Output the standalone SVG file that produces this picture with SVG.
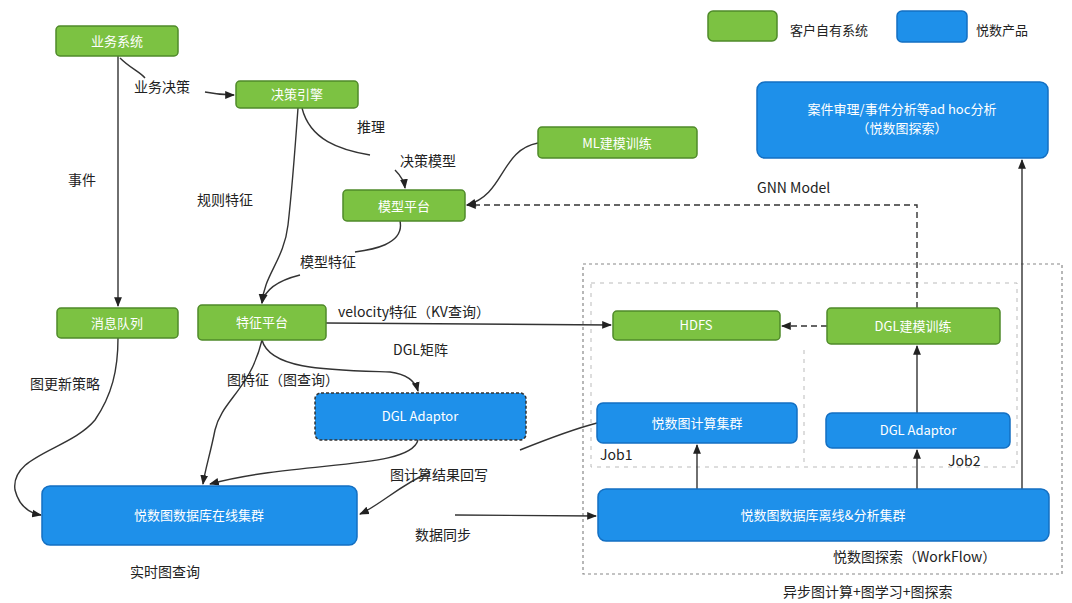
<svg xmlns="http://www.w3.org/2000/svg" width="1072" height="603" viewBox="0 0 1072 603">
<style>
.g{fill:#7cc242;stroke:#4f8a2a;stroke-width:1.5}
.b{fill:#1e90ea;stroke:#136fc2;stroke-width:1.5}
.nt{font-family:"Noto Sans CJK SC","Liberation Sans",sans-serif;font-size:13px;fill:#ffffff;text-anchor:middle}
.lb{font-family:"Noto Sans CJK SC","Liberation Sans",sans-serif;font-size:14px;fill:#222}
.c{fill:none;stroke:#333;stroke-width:1.4}
.d{stroke-dasharray:6 4}
.box{fill:none;stroke:#888;stroke-width:1.2;stroke-dasharray:3 3}
.box2{fill:none;stroke:#bbb;stroke-width:1;stroke-dasharray:4 5}
</style>
<defs>
<marker id="a" viewBox="0 0 10 10" refX="9" refY="5" markerWidth="7" markerHeight="7" orient="auto"><path d="M0,1 L10,5 L0,9 z" fill="#222"/></marker>
</defs>
<rect width="1072" height="603" fill="#ffffff"/>
<g id="frames">
<rect class="box" x="583" y="264" width="479" height="310"/>
<rect class="box2" x="591" y="283" width="426" height="184"/>
<line class="box2" x1="804" y1="350" x2="804" y2="467"/>
</g>
<g id="legend">
<rect class="g" x="708" y="11" width="69" height="30" rx="5"/>
<text class="lb" x="790" y="35" style="font-size:13px">客户自有系统</text>
<rect class="b" x="897" y="11" width="70" height="31" rx="5"/>
<text class="lb" x="976" y="35" style="font-size:13px">悦数产品</text>
</g>
<g id="connectors">
<path class="c" d="M118,56 L118,306" marker-end="url(#a)"/>
<path class="c" d="M120,58 C130,68 140,72 145,78 M205,92 C215,94 222,95 234,95" marker-end="url(#a)"/>
<path class="c" d="M118,338 C118,370 112,395 95,420 C70,450 10,455 15,490 C20,510 35,514 41,515" marker-end="url(#a)"/>
<path class="c" d="M302,108 C310,140 340,150 370,155 M395,170 C400,175 404,180 405,188" marker-end="url(#a)"/>
<path class="c" d="M298,108 C295,150 292,190 288,225 C284,260 264,275 262,303" marker-end="url(#a)"/>
<path class="c" d="M400,221 C405,245 370,250 355,252 M300,275 C280,280 265,288 262,303" marker-end="url(#a)"/>
<path class="c" d="M538,143 C500,150 505,195 467,205" marker-end="url(#a)"/>
<path class="c d" d="M917,308 L917,205 L467,205" marker-end="url(#a)"/>
<path class="c" d="M326,323 L611,325" marker-end="url(#a)"/>
<path class="c d" d="M827,326 L782,326" marker-end="url(#a)"/>
<path class="c" d="M262,340 C270,370 330,370 390,372 C405,374 415,380 418,391" marker-end="url(#a)"/>
<path class="c" d="M262,340 C250,390 222,400 215,430 C210,455 205,470 203,484" marker-end="url(#a)"/>
<path class="c" d="M418,440 C410,470 300,460 210,484" marker-end="url(#a)"/>
<path class="c" d="M597,423 C570,430 545,440 520,450 M430,472 C400,485 380,505 360,514" marker-end="url(#a)"/>
<path class="c" d="M455,515 L596,516" marker-end="url(#a)"/>
<path class="c" d="M697,489 L697,445" marker-end="url(#a)"/>
<path class="c" d="M917,489 L917,450" marker-end="url(#a)"/>
<path class="c" d="M917,413 L917,346" marker-end="url(#a)"/>
<path class="c" d="M1022,489 L1022,160" marker-end="url(#a)"/>
</g>
<g id="labels">
<text class="lb" x="134" y="92">业务决策</text>
<text class="lb" x="68" y="185">事件</text>
<text class="lb" x="357" y="132">推理</text>
<text class="lb" x="400" y="166">决策模型</text>
<text class="lb" x="197" y="205">规则特征</text>
<text class="lb" x="300" y="267">模型特征</text>
<text class="lb" x="757" y="193">GNN Model</text>
<text class="lb" x="338" y="317">velocity特征（KV查询）</text>
<text class="lb" x="393" y="355">DGL矩阵</text>
<text class="lb" x="227" y="385">图特征（图查询）</text>
<text class="lb" x="30" y="389">图更新策略</text>
<text class="lb" x="390" y="480">图计算结果回写</text>
<text class="lb" x="415" y="540">数据同步</text>
<text class="lb" x="130" y="577">实时图查询</text>
<text class="lb" x="600" y="460">Job1</text>
<text class="lb" x="948" y="466">Job2</text>
<text class="lb" x="833" y="562">悦数图探索（WorkFlow）</text>
<text class="lb" x="783" y="597">异步图计算+图学习+图探索</text>
</g>
<g id="n-yewu"><rect class="g" x="56" y="26" width="122" height="30" rx="4"/><text class="nt" x="117" y="46">业务系统</text></g>
<g id="n-juece"><rect class="g" x="236" y="81" width="122" height="27" rx="4"/><text class="nt" x="297" y="99">决策引擎</text></g>
<g id="n-ml"><rect class="g" x="538" y="127" width="159" height="31" rx="4"/><text class="nt" x="617" y="148">ML建模训练</text></g>
<g id="n-moxing"><rect class="g" x="343" y="190" width="122" height="31" rx="4"/><text class="nt" x="404" y="211">模型平台</text></g>
<g id="n-xiaoxi"><rect class="g" x="57" y="308" width="121" height="30" rx="4"/><text class="nt" x="117" y="328">消息队列</text></g>
<g id="n-tezheng"><rect class="g" x="198" y="305" width="128" height="35" rx="4"/><text class="nt" x="262" y="327">特征平台</text></g>
<g id="n-hdfs"><rect class="g" x="613" y="311" width="167" height="29" rx="4"/><text class="nt" x="696" y="330">HDFS</text></g>
<g id="n-dglml"><rect class="g" x="827" y="308" width="173" height="36" rx="4"/><text class="nt" x="913" y="331">DGL建模训练</text></g>
<g id="n-anjian"><rect class="b" x="757" y="82" width="291" height="76" rx="8"/><text class="nt" x="902" y="114">案件审理/事件分析等ad hoc分析</text><text class="nt" x="902" y="133">（悦数图探索）</text></g>
<g id="n-dgl1"><rect class="b" x="315" y="393" width="211" height="47" rx="6" style="stroke:#333;stroke-dasharray:3 2"/><text class="nt" x="420" y="421">DGL Adaptor</text></g>
<g id="n-jisuan"><rect class="b" x="597" y="403" width="200" height="40" rx="6"/><text class="nt" x="697" y="428">悦数图计算集群</text></g>
<g id="n-dgl2"><rect class="b" x="826" y="413" width="184" height="35" rx="6"/><text class="nt" x="918" y="435">DGL Adaptor</text></g>
<g id="n-zaixian"><rect class="b" x="42" y="486" width="315" height="59" rx="8"/><text class="nt" x="199" y="520">悦数图数据库在线集群</text></g>
<g id="n-lixian"><rect class="b" x="598" y="489" width="451" height="52" rx="8"/><text class="nt" x="823" y="520">悦数图数据库离线&amp;分析集群</text></g>
</svg>
